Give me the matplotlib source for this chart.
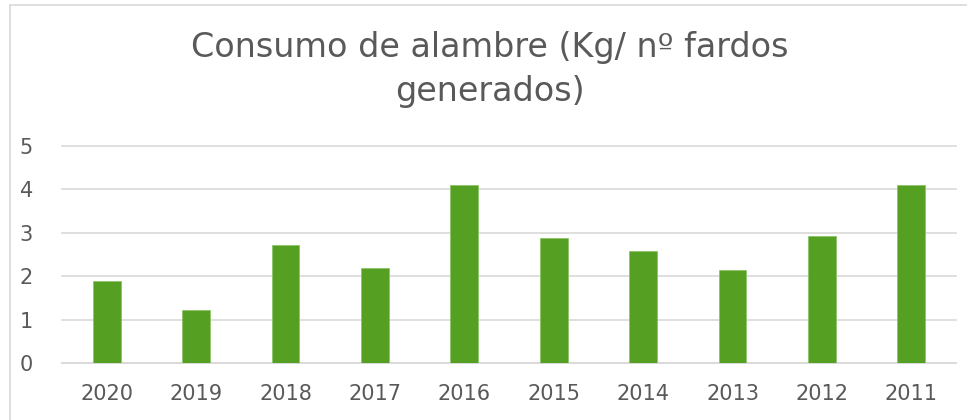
import matplotlib
matplotlib.use("Agg")
import matplotlib.pyplot as plt
from matplotlib import font_manager
from matplotlib.lines import Line2D

years = ["2020", "2019", "2018", "2017", "2016", "2015", "2014", "2013", "2012", "2011"]
values = [1.90, 1.21, 2.73, 2.18, 4.09, 2.89, 2.58, 2.15, 2.92, 4.09]
yticks = [0, 1, 2, 3, 4, 5]
title_lines = ["Consumo de alambre (Kg/ nº fardos", "generados)"]

plt.rcParams["font.family"] = ["DejaVu Sans"]

W, H = 967, 420
fig = plt.figure(figsize=(W / 100, H / 100), dpi=100)
fig.patch.set_facecolor("white")

# chart area border (only top and left visible in crop)
fig.add_artist(Line2D([10 / W, 10 / W], [0, 1 - 5 / H], transform=fig.transFigure,
                      color="#d9d9d9", lw=1.2))
fig.add_artist(Line2D([10 / W, 1], [1 - 5 / H, 1 - 5 / H], transform=fig.transFigure,
                      color="#d9d9d9", lw=1.2))

ax = fig.add_axes([62 / W, 1 - 363 / H, (956 - 62) / W, (363 - 146) / H])
x = list(range(len(years)))
ax.bar(x, values, width=0.31, color="#55A023", edgecolor="#8DC46A", linewidth=0.6, zorder=3)
ax.set_xlim(-0.5, len(years) - 0.5)
ax.set_ylim(0, 5)
ax.set_yticks(yticks)
ax.set_yticklabels([str(t) for t in yticks])
ax.set_xticks(x)
ax.set_xticklabels(years)
ax.grid(axis="y", color="#d9d9d9", lw=1.2, zorder=0)
for gl in ax.get_ygridlines():
    gl.set_clip_on(False)
ax.set_axisbelow(True)
for s in ["top", "right", "left"]:
    ax.spines[s].set_visible(False)
ax.spines["bottom"].set_color("#d9d9d9")
ax.spines["bottom"].set_linewidth(1.2)
ax.tick_params(axis="both", length=0, colors="#595959", labelsize=15)
ax.tick_params(axis="y", pad=21)
ax.tick_params(axis="x", pad=15)

fig.text(490 / W, 1 - 48 / H, title_lines[0], ha="center", va="center",
         fontsize=24, color="#595959")
fig.text(490 / W, 1 - 92 / H, title_lines[1], ha="center", va="center",
         fontsize=24, color="#595959")

fig.savefig("out.png", dpi=100, facecolor="white")
